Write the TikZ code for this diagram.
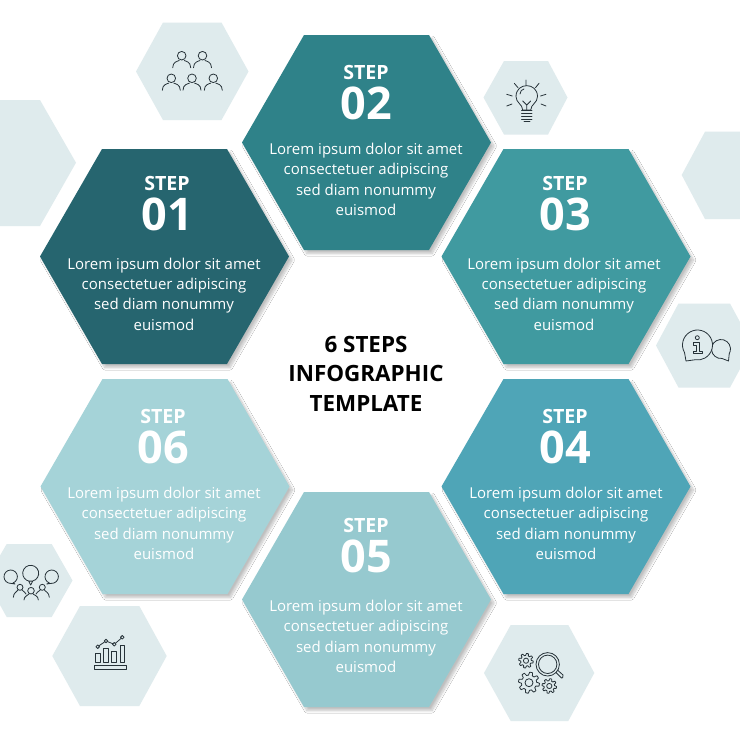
\documentclass[tikz,border=0pt]{standalone}
\usepackage{fontspec}
\setmainfont{Open Sans}
\usetikzlibrary{shadows.blur}
\definecolor{pale}{HTML}{DFEBED}
\definecolor{ink}{HTML}{263238}
\definecolor{one}{HTML}{26656F}
\definecolor{two}{HTML}{2F8289}
\definecolor{three}{HTML}{409AA0}
\definecolor{four}{HTML}{4FA5B7}
\definecolor{five}{HTML}{96C9CF}
\definecolor{six}{HTML}{A5D3D8}
\tikzset{x=1pt,y=-1pt,
 stepword/.style={font=\bfseries\fontsize{19.6}{20}\selectfont,text=white,inner sep=0},
 stepnum/.style={font=\bfseries\fontsize{45}{46}\selectfont,text=white,inner sep=0},
 body/.style={font=\fontsize{15}{20.35}\selectfont,text=white,align=center,inner sep=0},
 title/.style={font=\bfseries\fontsize{22.4}{29.5}\selectfont,text=black,align=center,inner sep=0},
 icon/.style={draw=ink,line width=.8pt,line cap=round,line join=round},
 softshadow/.style={blur shadow={shadow xshift=3pt,shadow yshift=-3.5pt,shadow blur radius=2.5pt,shadow blur steps=10,shadow opacity=25}}}
\newcommand{\bighex}[2]{\fill[#2,softshadow] (#1) ++(-124.5,0) -- ++(62,-107.5) -- ++(125,0) -- ++(62,107.5) -- ++(-62,107.5) -- ++(-125,0) -- cycle;}
\newcommand{\person}[4]{% x y head width/2
 \draw[icon] (#1,#2) circle (#3);
 \draw[icon] (#1-#4,#2+12) .. controls (#1-#4,#2+6) and (#1-4,#2+5.5) .. (#1-2.5,#2+#3+.5) (#1+#4,#2+12) .. controls (#1+#4,#2+6) and (#1+4,#2+5.5) .. (#1+2.5,#2+#3+.5);}
\newcommand{\gearicon}[4]{% x y R hole
 \draw[icon,shift={(#1,#2)}] plot[domain=0:360,samples=97] (\x:{#3*.86+#3*.14*max(-1,min(1,2.5*sin(8*\x)))}) -- cycle;
 \draw[icon] (#1,#2) circle (#4);}
\begin{document}
\begin{tikzpicture}
\useasboundingbox (0,0) rectangle (740,740);
\fill[white] (0,0) rectangle (740,740);
% pale hexagons
\fill[pale] (136,71.5) -- (163,22.5) -- (221.5,22.5) -- (248.5,71.5) -- (221.5,120) -- (163,120) -- cycle;
\fill[pale] (483.5,97.5) -- (504,61) -- (548,61) -- (567.5,97.5) -- (548,134.5) -- (504,134.5) -- cycle;
\fill[pale] (0,100) -- (40,100) -- (76,162.7) -- (40,226) -- (0,226) -- cycle;
\fill[pale] (681.7,175) -- (705,131.7) -- (740,131.7) -- (740,219) -- (705,219) -- cycle;
\fill[pale] (656,345.5) -- (678.5,303.5) -- (730,303.5) -- (740,322) -- (740,369) -- (730,387.5) -- (678.5,387.5) -- cycle;
\fill[pale] (0,555.5) -- (6.7,544) -- (51.7,544) -- (72.5,580.5) -- (51.7,617) -- (6.7,617) -- (0,605) -- cycle;
\fill[pale] (52.3,656) -- (80,606) -- (139.3,606) -- (166.7,656) -- (139.3,706) -- (80,706) -- cycle;
\fill[pale] (484,673) -- (510.7,625) -- (568.3,625) -- (594.3,673) -- (568.3,721) -- (510.7,721) -- cycle;
% big hexagons
\coordinate (c1) at (164.5,256.5);
\coordinate (c2) at (366.5,142.5);
\coordinate (c3) at (566,256.5);
\coordinate (c4) at (566,486.5);
\coordinate (c5) at (366.5,599.5);
\coordinate (c6) at (165,486.5);
\bighex{c1}{one}\bighex{c2}{two}\bighex{c3}{three}\bighex{c4}{four}\bighex{c5}{five}\bighex{c6}{six}
% labels
\newcommand{\stepblock}[5]{%
 \node[stepword] (w#1) at (#2,#3) {STEP};
 \node[stepnum] (n#1) at (#2,#3+31) {0#1};
 \node[body] (b#1) at (#4,#5) {Lorem ipsum dolor sit amet\\consectetuer adipiscing\\sed diam nonummy\\euismod};}
\stepblock{1}{167}{183}{164}{294}
\stepblock{2}{366}{72}{366}{179.5}
\stepblock{3}{565}{183}{564}{294}
\stepblock{4}{565}{416}{566}{523.5}
\stepblock{5}{366}{525}{366}{636.5}
\stepblock{6}{163}{416}{164}{523.5}
\node[title] (t) at (366,373.5) {6 STEPS\\INFOGRAPHIC\\TEMPLATE};
% people
\person{181.7}{55.7}{4.3}{9}
\person{202.5}{55.7}{4.3}{9}
\person{171.3}{78.3}{4.3}{9}
\person{192}{78.3}{4.3}{9}
\person{213.3}{78.3}{4.3}{9}
\begin{scope}[icon]
% bulb
\draw (522.7,110) .. controls (522.5,104) and (516,103) .. (516,96.5) .. controls (516,82) and (537.5,82) .. (537.5,96.5) .. controls (537.5,103) and (531,104) .. (530.7,110) -- cycle;
\draw (521.5,110) -- (532,110) (521.5,113) -- (532,113) (521.5,116) -- (532,116) (521.5,119) -- (532,119) (524,121.5) -- (530,121.5);
\draw (522.7,101) -- (526.8,105) -- (530.7,101) (526.8,105) -- (526.8,110);
\draw (520,94) .. controls (520,91) and (522,89.5) .. (524,89);
\draw (526,80) -- (526,85) (514.3,83.3) -- (518,87.7) (539,83.3) -- (535.5,87.7);
\draw (506.7,94.3) -- (512.3,96) (546,94.3) -- (540.5,96) (506.7,106) -- (512,104) (546,106) -- (541,104);
% chat
\draw[fill=pale] (721,349) ++(84:9.5) arc[start angle=84,end angle=390,radius=9.5] -- (728.5,361) -- cycle;
\draw[fill=pale] (697.5,345) ++(150:15) arc[start angle=150,end angle=460,radius=15] -- (686,361) -- cycle;
\draw (697.3,337.7) circle (2);
\draw (693.5,342.7) -- (699.5,342.7) -- (699.5,351) -- (702,351) -- (702,353.5) -- (693.5,353.5) -- (693.5,351) -- (696,351) -- (696,345.2) -- (693.5,345.2) -- cycle;
% talk
\draw (10.7,576.7) ++(110:6.7) arc[start angle=110,end angle=430,radius=6.7] -- (15,584) -- cycle;
\draw (30.7,573.3) ++(75:8) arc[start angle=75,end angle=465,radius=8] -- (30.7,585) -- cycle;
\draw (51.7,576.7) ++(110:6.7) arc[start angle=110,end angle=430,radius=6.7] -- (46.7,584) -- cycle;
\draw (20,587.3) circle (3) (31,590.7) circle (3.3) (42.3,587.3) circle (3);
\draw (13.3,597.3) .. controls (13.5,592.5) and (17,592) .. (18,590) (22,590) .. controls (24,592) and (25.5,592.5) .. (26,594);
\draw (40.3,590) .. controls (38,592) and (36.5,592.5) .. (36,594) (44.3,590) .. controls (46,592) and (49,592.5) .. (49.3,597.3);
\draw (24,600) .. controls (24,596) and (28,595.5) .. (29,594) (33,594) .. controls (35,595.5) and (38.3,596) .. (38.3,600);
% chart
\draw (94,665.3) rectangle (126.7,669.3);
\draw (95.7,653.3) rectangle (100.3,662.7) (103.7,648.3) rectangle (108.7,662.7) (111.7,651.7) rectangle (116.7,662.7) (120,645) rectangle (124.7,662.7);
\draw (97.7,646.7) circle (1.8) (106,641) circle (1.8) (114.3,644.3) circle (1.8) (122.3,637.3) circle (1.8);
\draw (99.2,645.6) -- (104.5,642) (107.7,641.7) -- (112.6,643.6) (115.6,643.1) -- (121,638.5);
% magnifier
\draw (547.7,664.3) circle (11.7) (547.7,664.3) circle (9.2);
\draw (556,672.5) -- (560.5,677) .. controls (561.5,679.5) and (564.5,677) .. (563,675) -- (558,670.5);
\end{scope}
\gearicon{526}{660.7}{7.3}{2.6}
\gearicon{529}{682.7}{10.5}{4}
\gearicon{549.3}{686}{7.3}{2.6}
\end{tikzpicture}
\end{document}
